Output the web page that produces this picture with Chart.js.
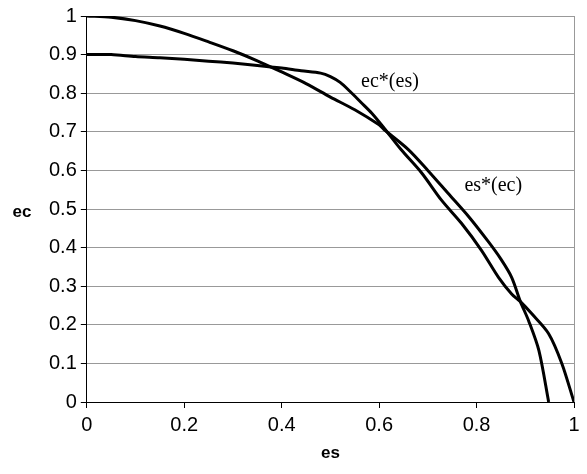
<!DOCTYPE html>
<html><head><meta charset="utf-8">
<script src="https://cdn.jsdelivr.net/npm/chart.js@4.4.0/dist/chart.umd.min.js"></script>
<style>html,body{margin:0;padding:0;background:#fff}#wrap{width:587px;height:474px}</style>
</head><body><div id="wrap"><canvas id="c" width="587" height="474"></canvas></div>
<script>
// es*(ec) curve: es values and ec values
const esStarX = [0,0.05,0.1,0.15,0.2,0.25,0.3,0.35,0.4,0.45,0.5,0.55,0.6,0.61,0.66,0.70,0.742,0.784,0.825,0.85,0.872,0.89,0.907,0.928,0.948];
const esStarY = [1.0,0.997,0.988,0.974,0.955,0.933,0.91,0.884,0.855,0.825,0.79,0.757,0.718,0.706,0.654,0.60,0.54,0.48,0.414,0.37,0.323,0.26,0.21,0.133,0];
// ec*(es) curve
const ecStarX = [0,0.05,0.1,0.15,0.2,0.25,0.3,0.35,0.4,0.44,0.48,0.5,0.52,0.54,0.563,0.585,0.61,0.645,0.687,0.728,0.769,0.81,0.845,0.872,0.89,0.913,0.948,0.975,1.0];
const ecStarY = [0.9,0.9,0.895,0.892,0.888,0.883,0.878,0.872,0.865,0.858,0.852,0.843,0.828,0.805,0.776,0.748,0.71,0.654,0.594,0.523,0.463,0.393,0.323,0.28,0.26,0.229,0.177,0.1,0];
const xTicks = [0,0.2,0.4,0.6,0.8,1];
const yTicks = [0,0.1,0.2,0.3,0.4,0.5,0.6,0.7,0.8,0.9,1];
const curveLabels = [{text:'ec*(es)', x:0.563, y:0.83},{text:'es*(ec)', x:0.775, y:0.56}];
const yTitle = 'ec';
const xTitle = 'es';

const pts = (xs, ys) => xs.map((x,i)=>({x:x, y:ys[i]}));
const SANS = '"Liberation Sans", Arial, sans-serif';

const labelPlugin = {
  id:'curveLabels',
  afterDatasetsDraw(chart){
    const {ctx, scales:{x,y}} = chart;
    ctx.save();
    ctx.font = '20px "Liberation Serif", "Times New Roman", serif';
    ctx.fillStyle = '#000';
    ctx.textAlign = 'left';
    ctx.textBaseline = 'middle';
    curveLabels.forEach(l => ctx.fillText(l.text, x.getPixelForValue(l.x), y.getPixelForValue(l.y)));
    ctx.font = 'bold 17px ' + SANS;
    ctx.textAlign = 'center';
    ctx.fillText(yTitle, 22, (y.top + y.bottom)/2 + 3);
    ctx.fillText(xTitle, (x.left + x.right)/2, y.bottom + 51);
    ctx.restore();
  }
};

new Chart(document.getElementById('c'), {
  type:'scatter',
  data:{datasets:[
    {label:'es*(ec)', data:pts(esStarX, esStarY), showLine:true, borderColor:'#000', borderWidth:3, pointRadius:0, tension:0.3, fill:false},
    {label:'ec*(es)', data:pts(ecStarX, ecStarY), showLine:true, borderColor:'#000', borderWidth:3, pointRadius:0, tension:0.3, fill:false}
  ]},
  options:{
    responsive:false, animation:false,
    layout:{padding:{left:45, right:13, top:8, bottom:32}},
    plugins:{legend:{display:false}, tooltip:{enabled:false}},
    scales:{
      x:{type:'linear', min:0, max:1,
        afterBuildTicks(s){ s.ticks = xTicks.map(v=>({value:v})); },
        ticks:{color:'#000', font:{family:SANS, size:20}, padding:5, maxRotation:0, callback:v=>String(v)},
        grid:{color:c=>c.tick && c.tick.value===1 ? '#999' : 'rgba(0,0,0,0)', tickColor:'#000', tickLength:6, lineWidth:1},
        border:{color:'#000', width:1}
      },
      y:{type:'linear', min:0, max:1,
        afterBuildTicks(s){ s.ticks = yTicks.map(v=>({value:v})); },
        ticks:{color:'#000', font:{family:SANS, size:20}, padding:4, callback:v=>String(v)},
        grid:{color:'#999', tickColor:'#000', tickLength:6, lineWidth:1},
        border:{color:'#000', width:1}
      }
    }
  },
  plugins:[labelPlugin]
});
</script></body></html>
